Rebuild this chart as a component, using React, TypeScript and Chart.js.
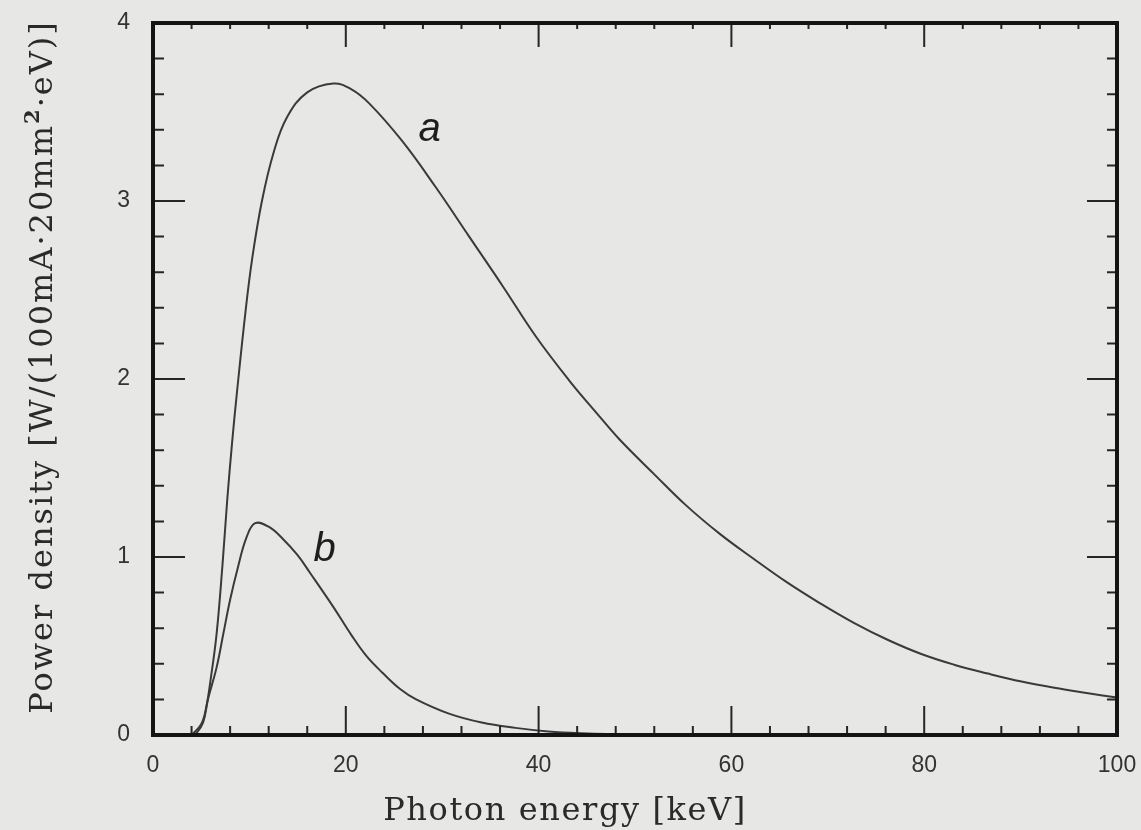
import React, { useEffect, useRef } from "react";
import { Chart, registerables } from "chart.js";

Chart.register(...registerables);

// Curve a: photon energy [keV] and power density
const energyA = [4, 5, 5.5, 6, 6.6, 7.2, 7.7, 8.2, 8.7, 9.6, 10.3, 11.3, 12.5, 13.9, 16, 18.7, 20.5, 22.4, 25.8, 29.3, 32.8, 36.3, 39.7, 43.2, 46, 48.4, 51.9, 55.3, 58.8, 62.3, 65.7, 69.2, 72.7, 76.2, 79.7, 83.1, 86.6, 90.1, 93.5, 97, 100];
const powerA = [0, 0.06, 0.15, 0.32, 0.57, 0.95, 1.32, 1.64, 1.92, 2.38, 2.68, 3.0, 3.27, 3.47, 3.61, 3.66, 3.63, 3.55, 3.34, 3.08, 2.8, 2.52, 2.24, 1.99, 1.81, 1.66, 1.47, 1.29, 1.13, 0.99, 0.86, 0.74, 0.63, 0.535, 0.455, 0.395, 0.345, 0.3, 0.265, 0.235, 0.21];

// Curve b
const energyB = [4, 4.5, 5.2, 5.7, 6.6, 7.3, 8.0, 8.8, 9.7, 10.6, 12, 13.5, 15, 16.3, 18.7, 20.6, 22.2, 23.8, 25.6, 27.3, 30.7, 34.1, 37.6, 41, 44.4, 50, 55];
const powerB = [0, 0.01, 0.07, 0.2, 0.38, 0.57, 0.76, 0.94, 1.11, 1.19, 1.17, 1.1, 1.01, 0.91, 0.72, 0.56, 0.44, 0.35, 0.26, 0.2, 0.12, 0.07, 0.04, 0.02, 0.01, 0.002, 0];

const xTickValues = [0, 20, 40, 60, 80, 100];
const yTickValues = [0, 1, 2, 3, 4];
const xMinorStep = 4;
const yMinorStep = 0.2;

const curveNames = ["a", "b"];
const curveLabelX = [28.7, 17.8];
const curveLabelY = [3.4, 1.04];

const xTitle = "Photon energy [keV]";
const yTitleParts = ["Power density [W/(100mA\u00b720mm", "2", "\u00b7eV)]"];

const PAPER = "#e7e7e5";

const frameTicksPlugin = {
  id: "frameTicks",
  afterDatasetsDraw(chart: any) {
    const ctx = chart.ctx as CanvasRenderingContext2D;
    const { left, right, top, bottom } = chart.chartArea;
    const xs = chart.scales.x;
    const ys = chart.scales.y;
    ctx.save();
    ctx.strokeStyle = "#262626";
    ctx.lineWidth = 2;
    const nx = Math.round((xTickValues[xTickValues.length - 1] - xTickValues[0]) / xMinorStep);
    for (let i = 0; i <= nx; i++) {
      const v = xTickValues[0] + i * xMinorStep;
      const px = xs.getPixelForValue(v);
      const major = xTickValues.includes(v);
      ctx.beginPath();
      ctx.moveTo(px, bottom);
      ctx.lineTo(px, bottom - (major ? 29 : 9));
      ctx.moveTo(px, top);
      ctx.lineTo(px, top + (major ? 24 : 6));
      ctx.stroke();
    }
    const ny = Math.round((yTickValues[yTickValues.length - 1] - yTickValues[0]) / yMinorStep);
    for (let i = 0; i <= ny; i++) {
      const v = yTickValues[0] + i * yMinorStep;
      const py = ys.getPixelForValue(v);
      const major = i % 5 === 0;
      ctx.beginPath();
      ctx.moveTo(left, py);
      ctx.lineTo(left + (major ? 32 : 11), py);
      ctx.moveTo(right, py);
      ctx.lineTo(right - (major ? 30 : 10), py);
      ctx.stroke();
    }
    ctx.lineWidth = 4;
    ctx.strokeStyle = "#141414";
    ctx.strokeRect(left, top, right - left, bottom - top);

    // curve labels
    ctx.fillStyle = "#1e1e1e";
    ctx.font = "italic 40px 'Liberation Sans', Arial, sans-serif";
    ctx.textAlign = "center";
    ctx.textBaseline = "middle";
    curveNames.forEach((n, i) => {
      ctx.fillText(n, xs.getPixelForValue(curveLabelX[i]), ys.getPixelForValue(curveLabelY[i]));
    });

    // x title
    ctx.fillStyle = "#2a2a2a";
    ctx.font = "32px 'DejaVu Serif', serif";
    (ctx as any).letterSpacing = "1.6px";
    ctx.textAlign = "center";
    ctx.textBaseline = "alphabetic";
    ctx.fillText(xTitle, 565, 820);

    // y title (rotated)
    ctx.save();
    (ctx as any).letterSpacing = "2px";
    ctx.translate(52, 367);
    ctx.rotate(-Math.PI / 2);
    ctx.textAlign = "left";
    const f1 = "32px 'DejaVu Serif', serif";
    const f2 = "bold 21px 'DejaVu Serif', serif";
    ctx.font = f1;
    const w1 = ctx.measureText(yTitleParts[0]).width;
    const w3 = ctx.measureText(yTitleParts[2]).width;
    ctx.font = f2;
    const w2 = ctx.measureText(yTitleParts[1]).width;
    const total = w1 + w2 + w3;
    let x0 = -total / 2;
    ctx.font = f1;
    ctx.fillText(yTitleParts[0], x0, 0);
    x0 += w1;
    ctx.font = f2;
    ctx.fillText(yTitleParts[1], x0, -13);
    x0 += w2;
    ctx.font = f1;
    ctx.fillText(yTitleParts[2], x0, 0);
    ctx.restore();

    ctx.restore();
  },
};

export default function App() {
  const canvasRef = useRef<HTMLCanvasElement | null>(null);

  useEffect(() => {
    document.body.style.background = PAPER;
    const canvas = canvasRef.current;
    if (!canvas) return;
    const chart = new Chart(canvas, {
      type: "line",
      data: {
        datasets: [
          {
            label: "a",
            data: energyA.map((x, i) => ({ x, y: powerA[i] })),
            borderColor: "#3a3a3a",
            borderWidth: 2,
            pointRadius: 0,
            tension: 0.4,
            fill: false,
          },
          {
            label: "b",
            data: energyB.map((x, i) => ({ x, y: powerB[i] })),
            borderColor: "#3a3a3a",
            borderWidth: 2,
            pointRadius: 0,
            tension: 0.4,
            fill: false,
          },
        ],
      },
      options: {
        responsive: false,
        animation: false,
        layout: { padding: { left: 0, top: 23, right: 24, bottom: 0 } },
        plugins: {
          legend: { display: false },
          tooltip: { enabled: false },
        },
        scales: {
          x: {
            type: "linear",
            min: 0,
            max: 100,
            afterBuildTicks: (scale: any) => {
              scale.ticks = xTickValues.map((v) => ({ value: v }));
            },
            afterFit: (scale: any) => {
              scale.height = 95;
              scale.paddingLeft = 0;
              scale.paddingRight = 0;
            },
            ticks: {
              font: { family: "'Liberation Sans', Arial, sans-serif", size: 23 },
              color: "#333",
              padding: 9,
              maxRotation: 0,
              autoSkip: false,
            },
            grid: { display: false },
            border: { display: false },
          },
          y: {
            type: "linear",
            min: 0,
            max: 4,
            afterBuildTicks: (scale: any) => {
              scale.ticks = yTickValues.map((v) => ({ value: v }));
            },
            afterFit: (scale: any) => {
              scale.width = 153;
              scale.paddingTop = 0;
              scale.paddingBottom = 0;
            },
            ticks: {
              font: { family: "'Liberation Sans', Arial, sans-serif", size: 23 },
              color: "#333",
              padding: 15,
            },
            grid: { display: false },
            border: { display: false },
          },
        },
      },
      plugins: [frameTicksPlugin],
    } as any);
    return () => chart.destroy();
  }, []);

  return (
    <div style={{ position: "absolute", left: 0, top: 0, width: 1141, height: 830, background: PAPER }}>
      <canvas ref={canvasRef} width={1141} height={830} style={{ display: "block" }} />
    </div>
  );
}
